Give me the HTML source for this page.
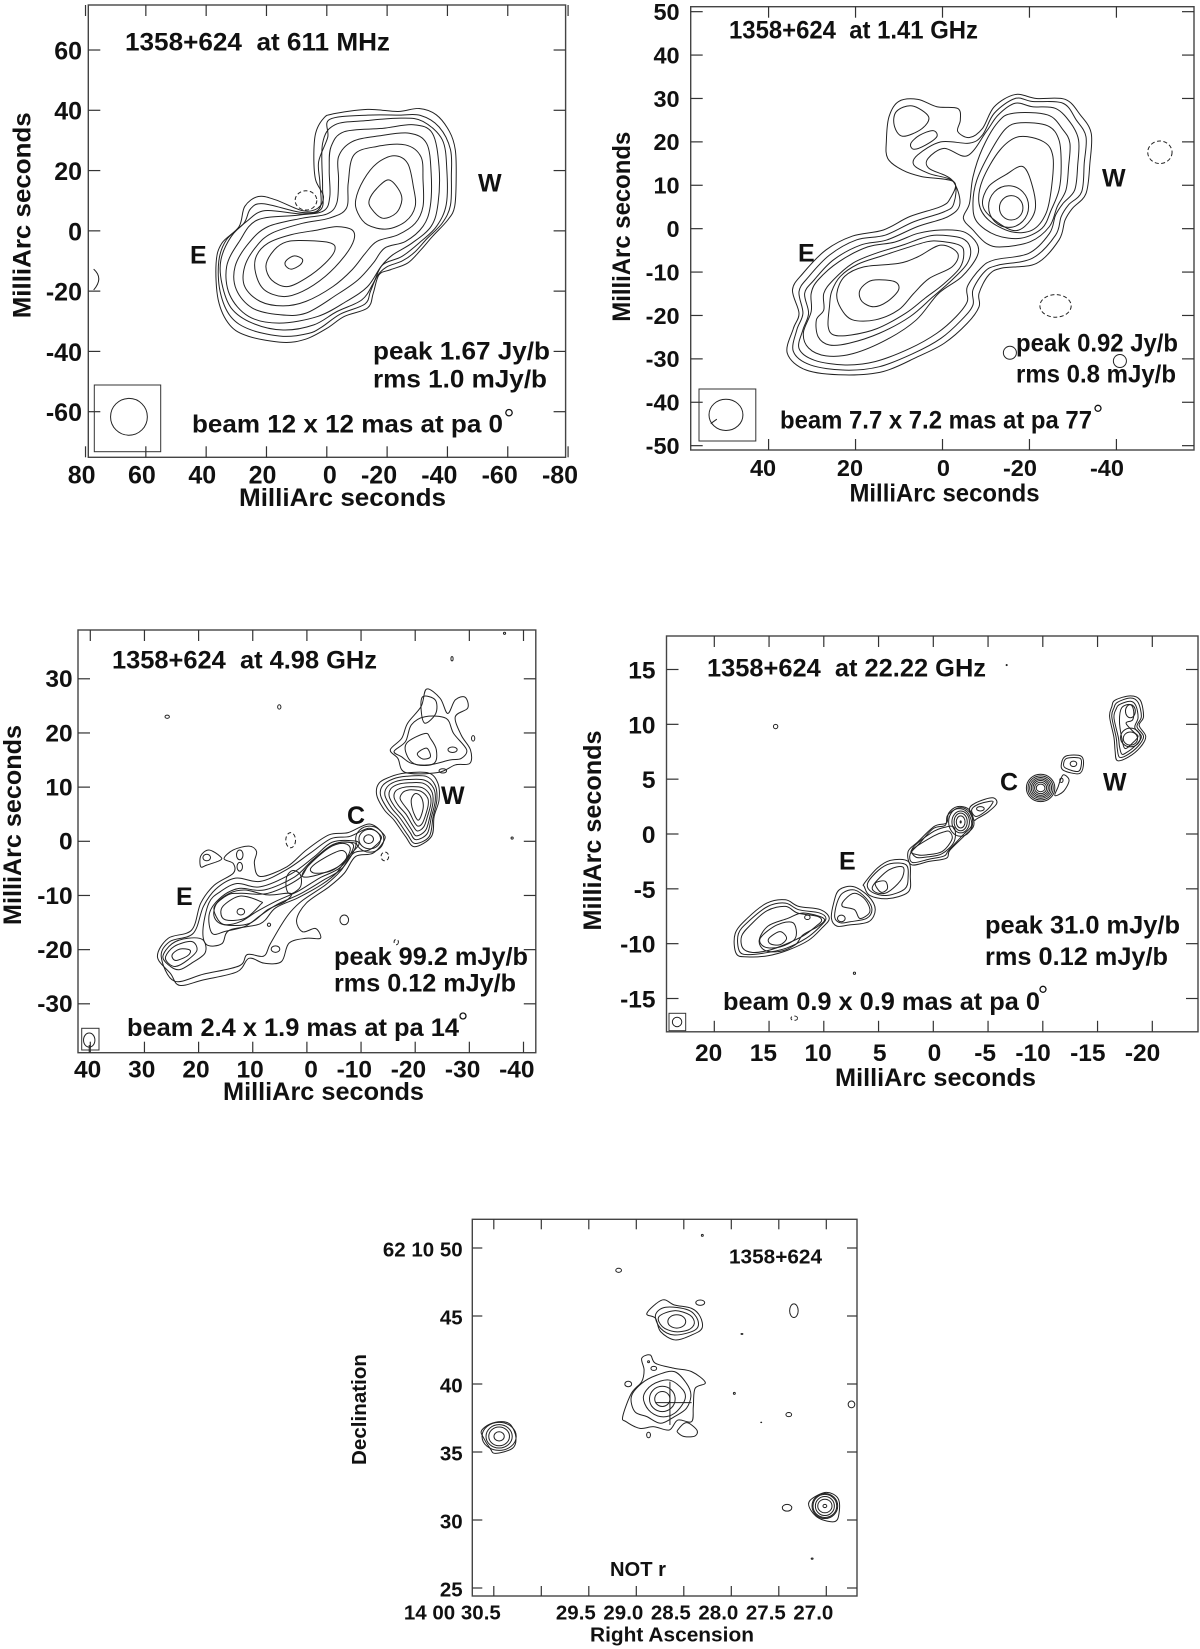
<!DOCTYPE html>
<html lang="en">
<head>
<meta charset="utf-8">
<title>1358+624 radio maps</title>
<style>
html,body{margin:0;padding:0;background:#fff}
svg{display:block}
text{font-family:"Liberation Sans",sans-serif;font-weight:700;fill:#111}
.a{font-size:25px}
.s{font-size:20.5px}
.frame{fill:none;stroke:#444;stroke-width:1.4}
.tick{stroke:#333;stroke-width:1.2}
.c{fill:none;stroke:#222;stroke-width:1}
.d{fill:none;stroke:#222;stroke-width:1;stroke-dasharray:4 2.5}
.deg{fill:none;stroke:#111;stroke-width:1.3}
.box{fill:none;stroke:#333;stroke-width:1}
</style>
</head>
<body>
<svg id="figure" xmlns="http://www.w3.org/2000/svg" width="1200" height="1649" viewBox="0 0 1200 1649">
<rect width="1200" height="1649" fill="#fff"/>

<g id="p1">
<text class="a" x="125" y="50.7" textLength="265" lengthAdjust="spacingAndGlyphs" xml:space="preserve">1358+624  at 611 MHz</text>
<text class="a" x="478" y="191.7">W</text>
<text class="a" x="190" y="263.3">E</text>
<text class="a" x="373" y="359.3" textLength="177" lengthAdjust="spacingAndGlyphs">peak 1.67 Jy/b</text>
<text class="a" x="373" y="387.7" textLength="174" lengthAdjust="spacingAndGlyphs">rms 1.0 mJy/b</text>
<text class="a" x="192" y="432.7" textLength="311" lengthAdjust="spacingAndGlyphs">beam 12 x 12 mas at pa 0</text>
<circle class="deg" cx="509" cy="412.7" r="3.2"/>
<rect class="box" x="94.3" y="385" width="66.4" height="66.7"/>
<text class="a" x="239" y="506" textLength="207" lengthAdjust="spacingAndGlyphs">MilliArc seconds</text>
<text class="a" transform="translate(30.6 318.3) rotate(-90)" textLength="206" lengthAdjust="spacingAndGlyphs">MilliArc seconds</text>
</g>

<g id="p2">
<text class="a" x="729" y="38.3" textLength="249" lengthAdjust="spacingAndGlyphs" xml:space="preserve">1358+624  at 1.41 GHz</text>
<text class="a" x="1102" y="186.7">W</text>
<text class="a" x="798" y="261.7">E</text>
<text class="a" x="1016" y="351.7" textLength="162" lengthAdjust="spacingAndGlyphs">peak 0.92 Jy/b</text>
<text class="a" x="1016" y="382.7" textLength="160" lengthAdjust="spacingAndGlyphs">rms 0.8 mJy/b</text>
<text class="a" x="780" y="428.3" textLength="312" lengthAdjust="spacingAndGlyphs">beam 7.7 x 7.2 mas at pa 77</text>
<circle class="deg" cx="1098" cy="408.3" r="3"/>
<rect class="box" x="699" y="389" width="56.8" height="52"/>
<text class="a" x="849.5" y="501.7" textLength="190" lengthAdjust="spacingAndGlyphs">MilliArc seconds</text>
<text class="a" transform="translate(630 321.7) rotate(-90)" textLength="190" lengthAdjust="spacingAndGlyphs">MilliArc seconds</text>
</g>

<g id="p3">
<text class="a" x="112" y="668.3" textLength="265" lengthAdjust="spacingAndGlyphs" xml:space="preserve">1358+624  at 4.98 GHz</text>
<text class="a" x="441" y="804">W</text>
<text class="a" x="347" y="824">C</text>
<text class="a" x="176" y="905">E</text>
<text class="a" x="334" y="965" textLength="194" lengthAdjust="spacingAndGlyphs">peak 99.2 mJy/b</text>
<text class="a" x="334" y="991.7" textLength="182" lengthAdjust="spacingAndGlyphs">rms 0.12 mJy/b</text>
<text class="a" x="127" y="1036" textLength="332" lengthAdjust="spacingAndGlyphs">beam 2.4 x 1.9 mas at pa 14</text>
<circle class="deg" cx="463" cy="1016" r="3"/>
<rect class="box" x="81.7" y="1028.3" width="17.3" height="21.7"/>
<text class="a" x="223" y="1100" textLength="201" lengthAdjust="spacingAndGlyphs">MilliArc seconds</text>
<text class="a" transform="translate(21 925) rotate(-90)" textLength="200" lengthAdjust="spacingAndGlyphs">MilliArc seconds</text>
</g>

<g id="p4">
<text class="a" x="707" y="676.7" textLength="279" lengthAdjust="spacingAndGlyphs" xml:space="preserve">1358+624  at 22.22 GHz</text>
<text class="a" x="1103" y="790.7">W</text>
<text class="a" x="1000" y="790.7">C</text>
<text class="a" x="839" y="869.3">E</text>
<text class="a" x="985" y="933.3" textLength="195" lengthAdjust="spacingAndGlyphs">peak 31.0 mJy/b</text>
<text class="a" x="985" y="965" textLength="183" lengthAdjust="spacingAndGlyphs">rms 0.12 mJy/b</text>
<text class="a" x="723" y="1010" textLength="317" lengthAdjust="spacingAndGlyphs">beam 0.9 x 0.9 mas at pa 0</text>
<circle class="deg" cx="1043" cy="989.3" r="3"/>
<rect class="box" x="669" y="1013.3" width="16.7" height="17.4"/>
<text class="a" x="835" y="1086" textLength="201" lengthAdjust="spacingAndGlyphs">MilliArc seconds</text>
<text class="a" transform="translate(601 930.5) rotate(-90)" textLength="200" lengthAdjust="spacingAndGlyphs">MilliArc seconds</text>
</g>

<g id="p5">
<text class="s" x="729" y="1263.3" textLength="93" lengthAdjust="spacingAndGlyphs">1358+624</text>
<text class="s" x="610" y="1576" textLength="56" lengthAdjust="spacingAndGlyphs">NOT r</text>
<text class="s" x="590" y="1641.7" textLength="164" lengthAdjust="spacingAndGlyphs">Right Ascension</text>
<text class="s" transform="translate(366 1465) rotate(-90)" textLength="111" lengthAdjust="spacingAndGlyphs">Declination</text>
</g>
</svg>

<script>
/* ---------- panel 1: 611 MHz (values in mas) ---------- */
const p1TicksX=[80,60,40,20,0,-20,-40,-60,-80];
const p1TicksY=[60,40,20,0,-20,-40,-60];
const p1Contours=[
[-2,38.8,-13.5,40.3,-23.6,39.6,-30.6,40.6,-36.3,38.5,-40.7,32.9,-42.6,26.9,-42.9,18,-42.4,8.1,-40.1,3.6,-35,-1.9,-31.2,-6.3,-26.8,-10.7,-21.1,-12.9,-17.3,-14.6,-15.4,-20.7,-13.5,-25.6,-5.8,-28.4,-.1,-32.3,6.9,-35.9,14.5,-37,25.9,-35,32.2,-31.2,36,-22.9,36.7,-10.7,34.8,-4.1,29.1,1.4,27.2,8.1,22.7,11.4,17,10.3,8.1,6.7,3,7.5,1.1,11.4,3.7,16.9,4.3,24.6,3.7,32.4,1.1,37.3],
[-.3,31,-1,37,-13.5,38.4,-24,38.4,-31,38.3,-37.2,34.5,-41,27,-41.3,18,-41,8.5,-38.3,2.6,-33.3,-2.5,-29,-7.2,-25,-10,-19.8,-12,-16.7,-15,-14.5,-20,-12.6,-24.3,-4.5,-27.6,1.8,-32,6,-34,14.5,-35,25.3,-32.8,31.9,-28.4,35.4,-20,35.8,-10,33.3,-3,27.5,2.5,25.3,7.3,21,9,8.1,6.1,2.3,7.6,2.3,16,2.7,23],
[1.4,29,-2.7,35.2,-13.5,36.6,-24.9,37.4,-31.9,36.3,-38.3,30.2,-39.8,20.2,-39.6,8.7,-36.4,1.5,-31.2,-3.5,-24.9,-8.5,-18.5,-11.3,-15.4,-17.4,-11.6,-22.9,-3.3,-26.8,4.3,-31.2,14.5,-32.9,24.7,-30.6,31.7,-25.6,34.8,-17.4,35.1,-9.6,31.7,-1.9,26.5,3.2,20.5,6.7,8.1,5.6,1.8,7.3,1.4,14.7],
[-1.4,27.9,-5.8,32.9,-18.5,34,-28.7,35.2,-35,32.4,-37.2,21.4,-36.9,9.2,-34.6,1.5,-28.2,-4.1,-21.8,-8,-18,-11.8,-13.5,-18.5,-6.5,-23.4,3,-28.4,15.8,-30.6,25.9,-28.4,32.2,-21.2,33.2,-11.8,29,-3.5,23,3.6,9.4,5.2,1.1,6.6,-1,11.4,-.8,20.2],
[-3.9,24.6,-8.4,29.6,-17.3,31.5,-27.4,32.4,-33.1,29,-34.6,19.1,-34.3,8.1,-31.9,1.5,-26.1,-3.5,-19.2,-5.7,-15.4,-10.7,-10.3,-16.3,-3.3,-21.2,6.9,-27.3,15.8,-27.8,24.7,-25.6,30,-19.5,30.4,-11.8,25.9,-4.1,19.5,1.4,8.1,4.2,-.1,5.6,-3.3,9.2,-3.9,16.9],
[-9,25.2,-16.6,28,-26.1,28.5,-31.2,24.6,-31.9,16.9,-31.9,8.1,-29.3,2.5,-23.6,-1.3,-16.6,-3.5,-12.8,-7.4,-8.4,-12.9,-2,-18.5,6.9,-23.4,14.5,-24.9,22.1,-23.4,27.2,-18.5,27.2,-11.8,23.4,-5.2,18.3,-.8,8.1,2.5,-.8,4.2,-6.5,7.5,-7.1,15.8],
[-3.3,1.4,-8.4,.3,-9,-3,-5.8,-8.5,.5,-15.1,8.1,-20.1,14.5,-21.8,20.8,-19.5,23.6,-14,23.4,-8.5,19.5,-4.1,11.9,-1.3,3,.3],
[-22.3,24.9,-26.8,22.4,-28.7,14.7,-29.3,8.1,-26.1,3.1,-19.8,.6,-13.5,2,-10.3,5.9,-9.6,10.3,-12.2,16.9,-16.6,22.4],
[-16.6,14.1,-20.4,16.9,-23.6,14.1,-24.9,10.3,-23,5.9,-18.5,4.2,-14.7,7.5,-14.1,10.3],
[9.4,-3.2,-.8,-3.9,-2.7,-6.3,.5,-10.7,6.9,-15.7,13.2,-18.5,18.3,-16.3,20.2,-11.8,18.3,-7.4,14.5,-4.1],
[10.7,-8.3,8.1,-9.4,8.8,-11.3,11.9,-12.7,13.8,-11.3,13.2,-9.6]
];
const p1Rings=[[65.6,-61.7,6.1,6.1]];
const p1Dashed=[[6.9,10.1,3.6,3.2]];
const p1Arcs=[[77.3,-12.7,73.9,-15.7,77.3,-19.6]];

/* ---------- panel 2: 1.41 GHz ---------- */
const p2TicksX=[40,20,0,-20,-40];
const p2TicksY=[50,40,30,20,10,0,-10,-20,-30,-40,-50];
const p2Contours=[
[-16.7,30.9,-21.6,30,-28.2,29.8,-31.7,26.2,-34.2,22,-33.9,15.1,-33,8.1,-29.9,4.7,-28.2,2,-26.8,-2.6,-21.6,-8,-13.6,-9.1,-10.6,-10.7,-8.4,-14.9,-8.4,-18,-5.7,-21.8,-.4,-26.4,5.7,-29.5,13.6,-32.9,22.4,-33.7,31.3,-32.6,35.7,-28.7,34.3,-23,33,-19.5,34.5,-14.1,32.1,-10.3,26.8,-4.9,20.7,-1.7,13.6,-.3,7.5,2.8,.4,5.1,-1.8,7,-2.6,10.8,4.8,12,9.2,13.5,12.6,16.2,12.9,20.4,12.3,25.8,10.1,29.3,5.7,29.8,1.3,28.1,-3.5,27.7,-4.1,25,-3.5,22.4,-6.2,21,-9.2,23.1,-11.9,28.1],
[-16.7,30,-20.7,29.3,-27.7,28.9,-30.8,25,-33,21.2,-32.6,15.1,-32,8.5,-29,5.5,-27.3,2.8,-26,-1.5,-20.7,-6.8,-12.8,-8.4,-9.7,-9.9,-7,-14.1,-7,-17.6,-4.4,-21,.4,-25.3,6.6,-28.7,14.5,-31.8,22.4,-32.6,30.4,-31.4,34.3,-28.3,33.5,-23.3,32.1,-19.5,33,-14.5,30.8,-11.1,26,-6.1,19.8,-2.6,13.2,-1.5,6.6,1.6,-.4,3.9,-2.6,5.8,-2.6,10.8,3.1,12.7,6.6,14.7,5.7,17,.4,20,-6.2,19.7,-9.2,21.6,-11.9,26.6],
[-16.7,28.9,-20.7,28.1,-26,27.7,-29.5,24.3,-31.3,20.4,-31.1,14.7,-30.4,8.9,-27.7,5.8,-26,3.1,-24.6,-1.1,-19.8,-5.7,-11.9,-7.2,-8.8,-9.1,-5.7,-13.4,-5.7,-16.8,-3.1,-20.3,1.3,-24.1,7.5,-27.6,15.4,-30.6,22.4,-31.4,29.5,-30.3,33,-27.6,32.1,-23.3,30.8,-19.5,31.7,-14.9,29.5,-11.8,25.1,-7.2,18.9,-3.8,12.8,-2.6,5.7,.5,-1.3,2.8,-4,5.8,-2.2,11.2,3.1,13.9,3.3,16.2,-.4,18.5,-5.7,16.8,-10.1,22.4,-12.8,26.2],
[-16.3,26.6,-24.2,26.2,-27.7,22.8,-29.3,19.7,-29,14.3,-28.4,8.9,-26.4,5.1,-24.6,.5,-20.2,-3,-13.6,-4.2,-10.1,-3.4,-7,-.3,-4.8,2.4,-6.2,5.8,-7,11.9,-9.2,18.5,-12.8,24.6],
[-18,24.4,-24.2,23.7,-26.8,20.4,-27.3,14.3,-26.8,8.9,-25,4.3,-22.9,.1,-18,-2.2,-12.3,-1.5,-7.9,1.6,-7,5.8,-7.9,11.2,-11,17.7,-14.5,23],
[-17.6,21.2,-23.3,20,-25.4,16.6,-25.1,9.7,-23.8,3.5,-20.7,-.3,-15.8,-.7,-10.6,2,-8.4,5.8,-9.2,11.2,-13.2,18.1],
[-18.5,14.3,-20.7,9.7,-21.3,4.3,-18.9,.5,-15.8,-.3,-11,2.8,-9.2,5.8,-10.6,9.7,-14.5,12.4],
[.4,-.3,-4.8,-.7,-7.9,-3.4,-7.9,-6.5,-4.4,-11.1,.9,-14.9,6,-21,12.7,-25.5,20.6,-28.8,26.8,-29.3,30.8,-27.5,32,-24,30.2,-19.1,30.2,-14.9,28.6,-11.8,23.8,-7.6,17.2,-4.2,11,-3.1,5.7,-1.1],
[1.3,-1.5,-4.4,-2.2,-6.4,-4.5,-5.7,-8,-2.2,-11.8,2.2,-15.7,7.5,-20.3,14.5,-24.1,21.5,-26.4,26,-26.8,28.6,-24.9,29,-21,27.3,-18.7,27.3,-14.9,25.1,-11.8,20.7,-8,15.4,-5.7,9.2,-3.8,4.8,-2.2],
[.6,-2.9,-3.9,-3.8,-4.9,-5.6,-4,-9,-.2,-12.8,4,-16,8.5,-19.5,15,-23,21,-24.5,25,-24.5,26.3,-22.5,26,-18,25.5,-14.5,23.5,-11,19.5,-8.2,14,-6.3,8.5,-4.5,3.5,-3],
[.4,-3.8,-3.5,-5.7,-2.2,-8.8,3.1,-11.5,6.6,-14.9,10.1,-18.7,15.4,-21,20.7,-21,23.4,-18.3,24.3,-14.9,22.5,-11,18.1,-8.8,10.1,-8,5.7,-6.5],
[15.4,-11.8,11,-12.2,10.1,-14.1,12.7,-16.8,15.8,-18,18.5,-16.8,19.1,-14.5,17.6,-12.6],
[7,28.3,3.2,25.8,4.8,23,9.2,21.3,11.1,23.8,10.6,27],
[2.2,22.6,1.3,21.2,4,19.2,6.6,18.3,7.3,19.6,5.3,21.5]
];
const p2Rings=[[-15.2,5.1,4.6,4.8],[-15.8,4.8,2.7,2.8],[-15.5,-28.6,1.5,1.5],[-40.8,-30.5,1.5,1.5],[49.8,-42.9,3.9,3.6]];
const p2Dashed=[[-50,17.6,2.8,2.6],[-26,-17.8,3.6,2.6]];
const p2Arcs=[[53.3,-44.9,51.9,-43.9]];

/* ---------- panel 3: 4.98 GHz ---------- */
const p3TicksX=[40,30,20,10,0,-10,-20,-30,-40];
const p3TicksY=[30,20,10,0,-10,-20,-30];
const p3Contours=[
[27.6,-21.3,25.6,-17.9,21.3,-16.4,19.6,-11.4,17.1,-8.1,13.6,-5.9,13.6,-4.1,15.3,-3.2,13.6,-1.6,10.7,-.9,9.3,-1.9,9.7,-4.1,8.6,-6.5,3.7,-4.7,.1,-1.6,-4.1,1.2,-7.6,1.6,-11.5,3.2,-14,1.5,-14.3,.2,-12.2,-2.2,-9,-2.8,-6.9,-5.9,-4.1,-8.4,.1,-11.4,1.9,-14.5,.8,-16.7,-1.6,-16.1,-2.5,-17.9,.1,-17.9,3.3,-18.8,4.7,-22.2,7.9,-22.5,10.7,-21.6,12.9,-24.1,19.2,-25.6,23.5,-26.6,25.2,-24.4],
[26.9,-21.3,25.3,-18.5,21,-17,19.1,-12,16.8,-8.8,13.2,-6.8,8.6,-7.4,3.7,-5.2,-.6,-2.2,-4.5,.5,-7.9,.9,-11.4,2.4,-13.4,1.3,-13.6,.2,-11.5,-1.6,-8.6,-2.2,-6.2,-5.5,-3.5,-8,.8,-10.9,3,-13,4.7,-15.4,6.8,-19,8,-21.2,11,-20.9,12.5,-23,19,-24.5,24.5,-25.8],
[18.5,-19.1,19.2,-16.4,18.1,-11.4,16,-9.3,12.9,-7.8,8.6,-8.4,2.9,-6,-1.3,-2.9,-4.6,-.2,-8.4,.1,-9.6,-.6,-7.3,-3.2,-5.5,-5.8,-2.7,-8,1.6,-10.4,5.8,-12.3,8.6,-15.2,14.3,-16.4,15.7,-18.9],
[17.5,-17,18,-13.3,15.7,-10.2,12.5,-8.7,7.9,-9,2.3,-6.6,-1,-3.5,-4.8,-.6,-8,-.2,-9,-1,-6.5,-5,-3,-7.2,1.2,-9.7,5.4,-11.6,8.6,-13.7,11.4,-15.7,15,-16.6],
[16.4,-14.5,17.1,-12.1,14.6,-9.9,12.2,-9.6,7.2,-9.6,1.6,-7,-.5,-4.2,-4.3,-.9,-7.2,-.1,-8.6,-1.1,-6.2,-4.8,-2.3,-6.8,1.6,-9.2,5.8,-11.1,9.3,-13,12.2,-14.8,15,-15.4],
[14.3,-9.6,11.4,-9,7.2,-9.9,3,-9.6,4,-11.1,7.2,-12.6,10.7,-15.2,15.3,-15.4,17.1,-14,16.7,-11.5],
[12.2,-10.1,8.6,-11.1,8.6,-11.7,11.4,-14.2,15,-14.5,15.9,-13,15,-11.5],
[-6.4,-1.7,-7.3,-3.1,-4.8,-5.3,-1.6,-5.9,-.7,-5,-3,-3.2],
[.8,-6.5,-.2,-4.6,-4.1,-1.2,-6.9,-.4,-8,-1.6,-6.2,-4.4,-2,-6.2],
[2.6,-5.4,1.2,-6.2,1.2,-8.4,3,-9.7,3.8,-8.7,3.7,-6.5],
[23.5,-19.9,21.6,-20.1,22,-21.1,24.2,-22,24.9,-21],
[26.6,-21.3,24.9,-18.9,22,-17.9,19.2,-18.2,18.8,-20.6,21.3,-22.5,23.5,-23.7,25.2,-23.1],
[26.1,-21.3,24.5,-19.4,21.3,-18.5,20.3,-20.1,22,-21.9,24.2,-23.1,25.6,-22.5],
[19.6,-2.7,18.1,-1.6,16,-2.8,16,-3.5,18.5,-4.4,19.6,-4.7],
[-18.2,12.6,-22.5,12.6,-24.2,10.7,-24.4,7.6,-23.5,4.6,-23,.9,-19.9,-1,-18.2,.9,-16.1,3.9,-14.3,5.8,-12.9,8.5,-13.3,10.7,-15.4,11.9],
[-18.4,12,-22,12,-23.7,10.3,-24,7.6,-23.3,4.5,-22.6,.9,-20,-.4,-18.6,1.2,-16.6,4.1,-14.9,6,-13.6,8.5,-14,10.3,-15.9,11.5],
[-18.7,11.4,-21.7,11.3,-23.4,9.8,-23.7,7.5,-23,4.5,-22.2,1.4,-20.1,.3,-19,1.7,-17.2,4.3,-15.6,6.2,-14.4,8.5,-14.8,10,-16.3,11],
[-18.9,10.8,-21.5,10.7,-23,9.3,-23.3,7.4,-22.7,4.5,-21.9,2,-20.2,1,-19.3,2.2,-17.8,4.5,-16.2,6.4,-15.2,8.3,-15.5,9.7,-16.8,10.5],
[-19.2,10.1,-21.3,9.9,-22.7,8.6,-22.9,7,-22.3,4.7,-21.6,2.7,-20.4,1.9,-19.5,3,-18.3,5,-16.9,6.6,-16.1,8.1,-16.4,9.3,-17.6,9.9],
[-19.5,9.5,-21.1,9.2,-22.3,8,-22.4,6.7,-21.9,4.8,-21.3,3.3,-20.5,2.8,-19.8,3.6,-18.9,5.4,-17.7,7,-17.2,8,-17.7,9,-18.5,9.4],
[-20,8.8,-21,8.3,-21.5,6.7,-21.2,5,-20.6,3.9,-20,4.6,-19.4,6.3,-19.3,7.8],
[-15.4,16.9,-17.5,19,-18.6,21.8,-21.1,24.9,-22.1,28.1,-24.6,26.4,-26,23.6,-27.4,26.1,-29.2,26.6,-29.7,24.6,-27.4,23,-28.5,19.6,-30.2,16.9,-30.1,14.4,-27.4,14.1,-24.2,12.7,-18.2,12.7,-16.8,15.3],
[-16.1,16.6,-18.2,18.4,-19.3,21.5,-21.8,23,-25.7,22.7,-27.1,19.9,-29.5,16.9,-28.5,15.3,-26.4,15,-22.5,14.1,-19.3,14.4,-17.5,15.6],
[-18.4,18.1,-21.8,19.9,-22.8,19,-23.9,16.9,-23.5,14.4,-20.4,14.1,-18.6,15.6],
[-20.4,16.2,-22.1,17.2,-22.8,15.6,-21.4,15.2],
[-21.4,26.7,-23.7,26.1,-23.8,23.6,-21.8,21.8,-21.1,24.2]
];
const p3Rings=[[12.2,-13,.7,.6],[-11.6,.4,2.6,2.4],[-11.6,.4,2,1.8],[-11.4,.4,.9,.8],[18.5,-3,.7,.6],[12.4,-2.5,.6,.9],[12.4,-4.7,.5,.8],[-6.9,-14.5,.8,.9],[7,-15.4,.3,.3],[5.8,-19.9,.8,.6],[-26.9,16.9,.85,.5],[-25.1,13,.7,.4],[40.2,-36.7,1.05,1.3],[25.8,23,.4,.3],[5.1,24.8,.3,.4],[-26.8,33.7,.2,.4],[-30.7,19,.3,.5],[-37.9,.6,.2,.2],[-36.5,38.4,.2,.2]];
const p3Dashed=[[3,.2,.9,1.4],[-14.4,-2.8,.7,.8],[-16.5,-18.6,.4,.5]];
const p3Arcs=[[40.2,-37.6,40.2,-39]];

/* ---------- panel 4: 22.22 GHz ---------- */
const p4TicksX=[20,15,10,5,0,-5,-10,-15,-20];
const p4TicksY=[15,10,5,0,-5,-10,-15];
const p4Contours=[
[18.1,-9.1,17,-7.7,15.2,-6.3,13.5,-6,12.3,-6.6,10.3,-6.9,9.5,-7.7,10.2,-8.6,11.4,-9.7,13.3,-10.6,15.1,-11.1,17,-11.2,18,-10.9],
[17.8,-9.1,16.8,-7.9,15.1,-6.6,13.5,-6.3,12.3,-6.9,10.4,-7.2,9.8,-7.7,10.4,-8.5,11.6,-9.5,13.4,-10.4,15.1,-10.8,16.8,-11,17.7,-10.7],
[17.5,-9.3,16.7,-8.3,15.2,-7,13.5,-6.6,12.4,-7.2,10.6,-7.5,10.2,-7.9,10.7,-8.4,11.9,-9.3,13.6,-10.1,15,-10.6,16.5,-10.8,17.4,-10.4],
[15.9,-9.7,15.1,-8.4,13.3,-7.7,11.9,-7.2,10,-7.7,10.5,-8.4,11.9,-9.2,12.6,-10.1,14,-10.7,15.4,-10.6],
[15.8,-9.5,14.3,-8.3,12.8,-8.1,12.6,-9.5,14,-10.3,15.4,-10.3],
[15,-9.5,14,-8.9,13.4,-9.5,14,-10.1,14.9,-10],
[9.1,-6.3,8.6,-5.1,7.3,-4.8,5.9,-5.7,5.3,-6.9,5.9,-8,7.7,-8.3,8.8,-8.4,9.3,-7.7],
[8.8,-6.3,8.3,-5.4,7.2,-5.1,6.1,-5.9,5.6,-6.9,6.1,-7.7,7.6,-8,8.5,-8.1,9,-7.6],
[8.1,-6,7.2,-5.4,6.2,-6,5.8,-7.1,6.7,-7.7,7.2,-6.9,8.3,-6.6],
[6.3,-4.5,5.1,-3.1,3.9,-2.4,2.3,-2.5,2.1,-3.9,2.3,-5.3,4.2,-5.9,5.8,-5.6,6.3,-4.8],
[6,-4.5,5,-3.3,3.9,-2.7,2.5,-2.8,2.3,-3.9,2.6,-5,4.2,-5.6,5.6,-5.3],
[5.5,-4.7,4.1,-3.3,2.8,-3,2.8,-3.9,3.5,-4.8,4.4,-5.4,5.3,-5.3],
[5.3,-4.5,4.4,-4.3,4.2,-5,4.8,-5.3],
[2.3,-1.6,1.4,-.7,-.1,.7,-1.2,1,-1.4,1.9,-2.2,2.5,-3.3,2.2,-3.7,.8,-2.8,-.2,-1.5,-1.5,-1.2,-2.2,.4,-2.5,2,-2.8],
[2.1,-1.8,1.3,-.9,0,.5,-1.1,.8,-1.3,1.7,-2.2,2.3,-3.1,2,-3.5,.8,-2.7,-.1,-1.4,-1.5,-1,-2,.4,-2.3,1.9,-2.6],
[1.9,-1.3,.2,.1,-1,.6,-1.9,.6,-1.9,-.7,-.8,-1.8,.6,-2.1,1.6,-2.1],
[2,-1.5,0,-.2,-1,.2,-1.5,.2,-1.7,-.5,-.8,-1.6,.6,-1.9,1.4,-1.9],
[-3.3,2.3,-4,2.9,-5.4,3.3,-5.8,2.8,-5,2,-4,1.4,-3.7,1.3],
[-3.5,2.2,-4.1,2.7,-5.3,3,-5.4,2.8,-4.8,2.1,-3.9,1.6],
[-11.4,4.3,-11.6,4.9,-11.9,5.4,-12.4,4.9,-11.9,3.9,-11.1,3.5],
[-12.1,7.1,-13.5,7.1,-13.7,6.2,-13.3,5.5,-11.9,5.8,-11.7,6.4],
[-12.2,6.9,-13.4,6.9,-13.5,6.2,-13.2,5.7,-12.1,6,-11.9,6.4],
[-16.6,12.2,-18,12.6,-18.9,12.2,-19.2,10.7,-18.8,9.9,-19.4,8.9,-18.9,7.9,-17.8,7,-16.8,6.7,-16.6,7.6,-16.5,8.8,-16.1,10.7,-16.3,11.6],
[-16.8,12,-18,12.4,-18.7,12,-19,10.7,-18.6,9.8,-19.2,8.9,-18.7,8,-17.7,7.2,-17,7,-16.8,7.8,-16.7,8.8,-16.3,10.7,-16.5,11.5],
[-17,11.8,-18,12.1,-18.5,11.7,-18.7,10.6,-18.4,9.7,-19,8.9,-18.5,8.1,-17.6,7.4,-17.2,7.3,-17,8,-16.9,8.8,-16.5,10.6,-16.7,11.4],
[-17.2,11.5,-18,11.8,-18.3,11.2,-18.2,10.4,-17.6,10.1,-18.3,9.3,-18.7,8.9,-18.2,8.3,-17.5,7.8,-17.2,8.8,-17,10.3]
];
const p4Rings=[[11.5,-7.6,.25,.2],[8.4,-7.7,.35,.3],[-2.5,1.1,1.1,1.3],[-2.5,1.1,.8,1],[-2.5,1.1,.6,.8],[-2.5,1.1,.4,.55],[-2.5,1.1,.05,.1],[-4.3,2.3,.35,.2],[-9.8,4.2,1.3,1.25],[-9.8,4.2,1.15,1.1],[-9.8,4.2,1,.95],[-9.8,4.2,.85,.82],[-9.8,4.2,.7,.68],[-9.8,4.2,.55,.52],[-9.8,4.2,.4,.35],[-11.7,4.9,.15,.2],[-12.8,6.4,.3,.25],[-18,11.2,.45,.6],[-18,8.7,.65,.6],[-18,8.8,.9,.85],[14.4,9.8,.2,.2],[7.2,-12.7,.1,.1],[-6.7,15.4,.05,.05],[23.4,-17.14,.43,.43]];
const p4Dashed=[[12.7,-16.8,.3,.2]];
const p4Arcs=[];

/* ---------- panel 5: optical, RA seconds / Dec arcsec ---------- */
const p5TicksX=[30.5,30,29.5,29,28.5,28,27.5,27];
const p5TickLabelsX=["14 00 30.5","","29.5","29.0","28.5","28.0","27.5","27.0"];
const p5TicksY=[50,45,40,35,30,25];
const p5TickLabelsY=["62 10 50","45","40","35","30","25"];
const p5Contours=[
[28.889,45.2,28.726,46.18,28.599,45.81,28.418,45.56,28.327,44.95,28.309,44.09,28.418,43.6,28.592,43.24,28.744,43.85,28.798,44.83],
[28.798,45.07,28.69,45.64,28.454,45.44,28.353,44.71,28.381,43.97,28.599,43.6,28.744,44.09],
[28.762,44.95,28.599,45.39,28.436,45.07,28.389,44.46,28.454,43.97,28.599,43.85,28.726,44.22],
[29.143,37.6,29.052,39.31,28.943,40.17,28.918,41.03,28.943,41.89,28.853,42.13,28.798,41.52,28.599,41.15,28.418,40.91,28.273,40.1,28.381,39.68,28.4,38.33,28.418,37.23,28.563,37.35,28.653,36.62,28.816,36.86,28.962,36.74,29.107,37.23],
[29.052,39.07,28.943,40.05,28.78,40.66,28.599,40.91,28.472,40.05,28.425,39.19,28.472,38.21,28.599,37.6,28.744,37.11,28.889,37.6,29.016,37.97],
[28.925,39.07,28.835,39.93,28.653,40.29,28.508,39.56,28.49,38.82,28.599,37.84,28.744,37.6,28.871,38.09],
[28.563,36.62,28.472,37.16,28.363,36.62,28.381,36.18,28.49,36.13,28.556,36.38],
[30.629,36.57,30.539,37.06,30.412,37.23,30.321,36.99,30.267,36.08,30.303,35.27,30.484,34.9,30.539,35.27,30.611,36.08],
[27.167,31.47,27.004,32.03,26.877,31.59,26.866,30.49,26.913,29.88,27.076,30.12,27.174,30.86]
];
const p5Rings=[[28.574,44.6,.094,.49],[28.327,45.98,.047,.2],[28.726,38.9,.135,.93],[28.726,38.9,.08,.55],[29.085,40,.036,.2],[28.816,41.15,.03,.15],[28.871,41.64,.01,.07],[28.871,36.25,.02,.2],[29.186,48.36,.03,.15],[28.305,50.93,.01,.07],[27.341,45.39,.045,.5],[27.888,43.68,.01,.03],[27.968,39.31,.01,.07],[27.395,37.75,.03,.15],[27.685,37.18,.005,.02],[26.735,38.5,.035,.25],[27.413,30.9,.05,.25],[27.149,27.16,.01,.05],[30.444,36.15,.18,1.03],[30.444,36.15,.138,.86],[30.444,36.15,.109,.69],[30.444,36.15,.054,.34],[27.015,31.03,.135,.92],[27.015,31.03,.125,.85],[27.015,31.03,.1,.7],[27.015,31.03,.075,.5],[27.015,31.03,.02,.12]];
const p5Dashed=[];
const p5Arcs=[[28.798,38.63,28.418,38.63],[28.646,40.17,28.646,36.99]];

/* ---------- axis layout ---------- */
const SVG_NS='http://www.w3.org/2000/svg';
const layouts={
 p1:{xRef:0,x0:326.8,xk:3.016,yRef:0,y0:230.85,yk:3.014,left:88.3,right:565.6,top:5,bottom:457.3,tx:12,ty:11,lx:10,ly:9.4,lr:82,base:483.3,cls:'a',fs:25},
 p2:{xRef:0,x0:942.5,xk:4.348,yRef:0,y0:228.67,yk:4.34,left:690.7,right:1194,top:6.7,bottom:450,tx:12,ty:11,lx:7.5,ly:8.3,lr:679.6,base:476,cls:'a',fs:23.5},
 p3:{xRef:0,x0:306.9,xk:5.415,yRef:0,y0:841.3,yk:5.417,left:78,right:535.8,top:630,bottom:1052.7,tx:12,ty:11,lx:11,ly:8.3,lr:72.7,base:1077.3,cls:'a',fs:24.5},
 p4:{xRef:0,x0:933.3,xk:10.95,yRef:0,y0:834,yk:10.967,left:666.5,right:1198,top:636,bottom:1031.8,tx:12,ty:11,lx:8,ly:9,lr:655.5,base:1061,cls:'a',fs:24.5},
 p5:{xRef:27,x0:826.3,xk:95,yRef:40,y0:1384,yk:13.6,left:472.3,right:857,top:1219.3,bottom:1596,tx:10,ty:10,lx:7,ly:8.3,lr:462.7,base:1619.3,cls:'s',fs:20.5}
};
function xAxis(a,d){return a.x0-(d-a.xRef)*a.xk;}
function yAxis(a,v){return a.y0-(v-a.yRef)*a.yk;}

function toPixels(a,flat){
 const pts=[];
 for(let i=0;i<flat.length;i+=2){pts.push([xAxis(a,flat[i]),yAxis(a,flat[i+1])]);}
 return pts;
}
function closedSpline(pts){
 const n=pts.length;
 let s='M'+pts[0][0].toFixed(2)+' '+pts[0][1].toFixed(2);
 for(let i=0;i<n;i++){
  const p0=pts[(i-1+n)%n],p1=pts[i],p2=pts[(i+1)%n],p3=pts[(i+2)%n];
  const c1x=p1[0]+(p2[0]-p0[0])/6,c1y=p1[1]+(p2[1]-p0[1])/6;
  const c2x=p2[0]-(p3[0]-p1[0])/6,c2y=p2[1]-(p3[1]-p1[1])/6;
  s+='C'+c1x.toFixed(2)+' '+c1y.toFixed(2)+' '+c2x.toFixed(2)+' '+c2y.toFixed(2)+' '+p2[0].toFixed(2)+' '+p2[1].toFixed(2);
 }
 return s+'Z';
}
function openSpline(pts){
 let s='M'+pts[0][0].toFixed(2)+' '+pts[0][1].toFixed(2);
 if(pts.length===2){return s+'L'+pts[1][0].toFixed(2)+' '+pts[1][1].toFixed(2);}
 for(let i=1;i<pts.length-1;i++){
  const mx=(pts[i][0]+pts[i+1][0])/2,my=(pts[i][1]+pts[i+1][1])/2;
  const last=i===pts.length-2;
  s+='Q'+pts[i][0].toFixed(2)+' '+pts[i][1].toFixed(2)+' '+(last?pts[i+1][0]:mx).toFixed(2)+' '+(last?pts[i+1][1]:my).toFixed(2);
 }
 return s;
}
function drawFrame(g,a){
 const r=document.createElementNS(SVG_NS,'rect');
 
 
 r.setAttribute('class','frame');
 r.setAttribute('x',a.left);
 r.setAttribute('y',a.top);
 r.setAttribute('width',a.right-a.left);
 r.setAttribute('height',a.bottom-a.top);
 g.appendChild(r);
}
function tickLine(g,x1,y1,x2,y2,name){
 const l=document.createElementNS(SVG_NS,'line');
 
 
 l.setAttribute('class','tick');
 l.setAttribute('x1',x1);
 l.setAttribute('y1',y1);
 l.setAttribute('x2',x2);
 l.setAttribute('y2',y2);
 g.appendChild(l);
}
function tickText(g,x,y,str,cls,fs,name){
 const t=document.createElementNS(SVG_NS,'text');
 
 
 t.setAttribute('class',cls);
 t.setAttribute('x',x);
 t.setAttribute('y',y);
 t.setAttribute('text-anchor','end');
 t.style.fontSize=fs+'px';
 t.textContent=str;
 g.appendChild(t);
}
function drawTicks(g,a,ticksX,ticksY,labelsX,labelsY){
 ticksX.forEach(function(d,i){
  const x=xAxis(a,d);
  tickLine(g,x,a.bottom,x,a.bottom-a.ty,'x-tick');
  tickLine(g,x,a.top,x,a.top+a.ty,'x-tick');
  const lab=labelsX?labelsX[i]:String(d);
  if(lab){tickText(g,x+a.lx,a.base,lab,a.cls,a.fs,'x-tick-label');}
 });
 ticksY.forEach(function(v,i){
  const y=yAxis(a,v);
  tickLine(g,a.left,y,a.left+a.tx,y,'y-tick');
  tickLine(g,a.right,y,a.right-a.tx,y,'y-tick');
  tickText(g,a.lr,y+a.ly,labelsY?labelsY[i]:String(v),a.cls,a.fs,'y-tick-label');
 });
}
function drawContours(g,a,list){
 list.forEach(function(flat){
  const p=document.createElementNS(SVG_NS,'path');
  
  
  p.setAttribute('class','c');
  p.setAttribute('d',closedSpline(toPixels(a,flat)));
  g.appendChild(p);
 });
}
function drawRings(g,a,list,cls){
 list.forEach(function(r){
  const e=document.createElementNS(SVG_NS,'ellipse');
  
  
  e.setAttribute('class',cls);
  e.setAttribute('cx',xAxis(a,r[0]));
  e.setAttribute('cy',yAxis(a,r[1]));
  e.setAttribute('rx',r[2]*a.xk);
  e.setAttribute('ry',r[3]*a.yk);
  g.appendChild(e);
 });
}
function drawArcs(g,a,list){
 list.forEach(function(flat){
  const p=document.createElementNS(SVG_NS,'path');
  
  
  p.setAttribute('class','c');
  p.setAttribute('d',openSpline(toPixels(a,flat)));
  g.appendChild(p);
 });
}
function drawPanel(id,ticksX,ticksY,contours,rings,dashed,arcs,labelsX,labelsY){
 const g=document.getElementById(id);
 const a=layouts[id];
 drawFrame(g,a);
 drawTicks(g,a,ticksX,ticksY,labelsX,labelsY);
 drawContours(g,a,contours);
 drawRings(g,a,rings,'c');
 drawRings(g,a,dashed,'d');
 drawArcs(g,a,arcs);
}
drawPanel('p1',p1TicksX,p1TicksY,p1Contours,p1Rings,p1Dashed,p1Arcs);
drawPanel('p2',p2TicksX,p2TicksY,p2Contours,p2Rings,p2Dashed,p2Arcs);
drawPanel('p3',p3TicksX,p3TicksY,p3Contours,p3Rings,p3Dashed,p3Arcs);
drawPanel('p4',p4TicksX,p4TicksY,p4Contours,p4Rings,p4Dashed,p4Arcs);
drawPanel('p5',p5TicksX,p5TicksY,p5Contours,p5Rings,p5Dashed,p5Arcs,p5TickLabelsX,p5TickLabelsY);
</script>
</body>
</html>
